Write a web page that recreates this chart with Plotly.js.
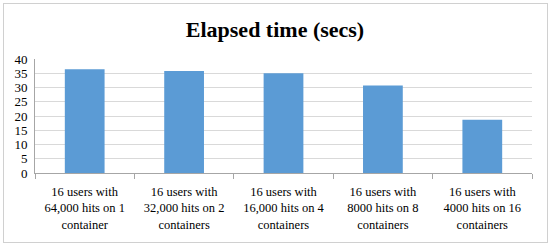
<!DOCTYPE html>
<html>
<head>
<meta charset="utf-8">
<script src="https://cdn.plot.ly/plotly-3.0.1.min.js"></script>
<style>
  body { margin: 0; background: #fff; }
  #frame { position: absolute; left: 3px; top: 3px; width: 543px; height: 238px; border: 1px solid #d0d0d0; }
  #chart { position: absolute; left: 0; top: 0; width: 550px; height: 246px; }
</style>
</head>
<body>
<div id="frame"></div>
<div id="chart"></div>
<script>
const categories = [
  '16 users with<br>64,000 hits on 1<br>container',
  '16 users with<br>32,000 hits on 2<br>containers',
  '16 users with<br>16,000 hits on 4<br>containers',
  '16 users with<br>8000 hits on 8<br>containers',
  '16 users with<br>4000 hits on 16<br>containers'
];
const elapsedSecs = [36.4, 35.8, 35.0, 30.7, 18.7];
const yTicks = [0, 5, 10, 15, 20, 25, 30, 35, 40];

var data = [{
  x: categories,
  y: elapsedSecs,
  type: 'bar',
  marker: { color: '#5b9bd5' },
  hoverinfo: 'none'
}];

var layout = {
  width: 550,
  height: 246,
  paper_bgcolor: 'rgba(0,0,0,0)',
  plot_bgcolor: 'rgba(0,0,0,0)',
  showlegend: false,
  bargap: 0.6,
  font: { family: 'Liberation Serif, serif', color: '#000' },
  title: {
    text: '<b>Elapsed time (secs)</b>',
    font: { size: 22, family: 'Liberation Serif, serif', color: '#000' },
    x: 0.5,
    xanchor: 'center',
    y: 0.88,
    yanchor: 'middle'
  },
  margin: { l: 35, r: 18, t: 59, b: 73 },
  xaxis: {
    type: 'category',
    tickson: 'boundaries',
    ticks: 'outside',
    ticklen: 5,
    tickcolor: '#a6a6a6',
    showline: true,
    linecolor: '#a6a6a6',
    showgrid: false,
    ticklabelstandoff: 7,
    tickfont: { size: 12.5 },
    tickangle: 0
  },
  yaxis: {
    range: [0, 40],
    tickvals: yTicks,
    showline: true,
    linecolor: '#a6a6a6',
    gridcolor: '#d9d9d9',
    zeroline: false,
    ticks: '',
    ticklabelstandoff: 4,
    tickfont: { size: 13 }
  }
};

Plotly.newPlot('chart', data, layout, { displayModeBar: false, staticPlot: true });
</script>
</body>
</html>
